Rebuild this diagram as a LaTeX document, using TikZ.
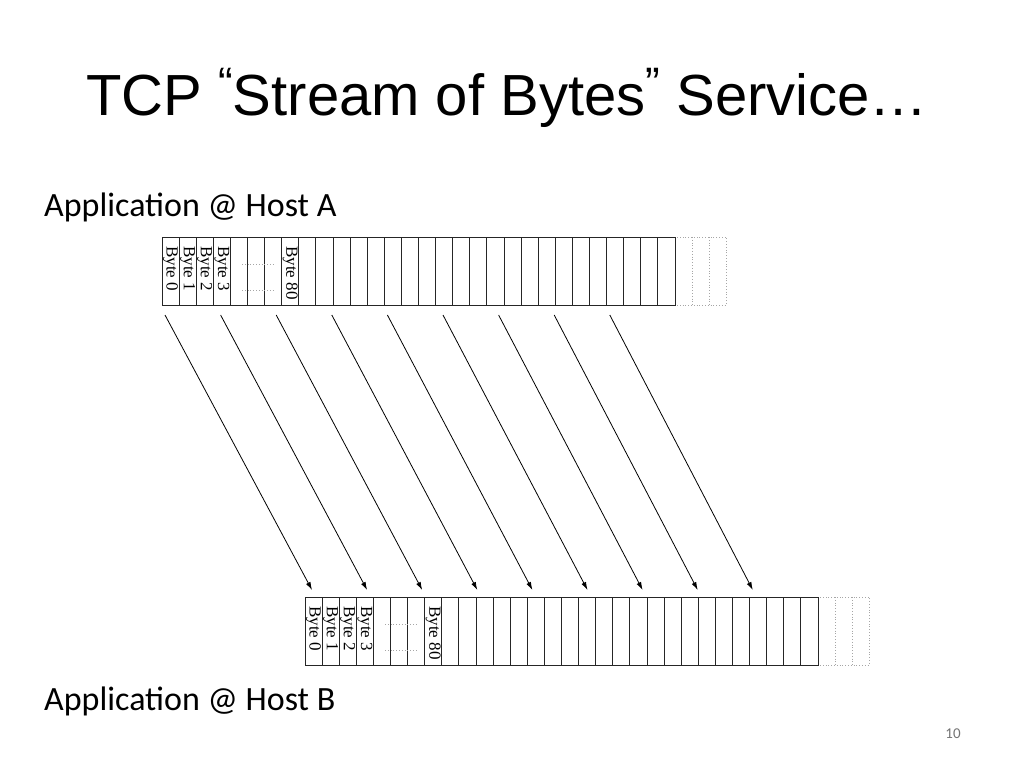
\documentclass[tikz,border=0pt]{standalone}
\usepackage{fontspec}
\usetikzlibrary{arrows.meta}
\setmainfont{Liberation Serif}
\newfontfamily\arialf{Liberation Sans}
\newfontfamily\calf{Carlito}
\begin{document}
\begin{tikzpicture}[x=1pt,y=-1pt,
  cellbox/.style={draw=black!85,line width=0.9pt},
  dotbox/.style={draw=black!35,dotted,line width=0.8pt},
  bytelbl/.style={rotate=-90,anchor=west,inner sep=0pt,font=\fontsize{17}{17}\selectfont},
  arr/.style={-{Latex[length=8pt,width=5pt]},line width=0.8pt}]
\useasboundingbox (0,0) rectangle (1024,768);
\node[font=\arialf\fontsize{58}{58}\selectfont,anchor=west,inner sep=0pt] (title) at (86,98)
  {TCP \raisebox{0.3em}{\fontsize{44}{44}\selectfont“}Stream of Bytes\raisebox{0.3em}{\fontsize{44}{44}\selectfont”} Service…};
\node[font=\calf\fontsize{34}{34}\selectfont,anchor=west,inner sep=0pt] (la) at (44,207) {Application @ Host A};
\node[font=\calf\fontsize{34}{34}\selectfont,anchor=west,inner sep=0pt] (lb) at (44,701) {Application @ Host B};
\node[font=\calf\fontsize{15}{15}\selectfont,text=black!55] (pg) at (953,734) {10};
\foreach \ox/\oy/\nm in {162/237/top,305/597/bot}{
  \begin{scope}[shift={(\ox,\oy)}]
    \draw[dotbox] (513,0) rectangle (564,68);
    \draw[dotbox] (530,0) -- (530,68) (547,0) -- (547,68);
    \foreach \i in {0,...,29}{
      \draw[cellbox] ({\i*17.1},0) rectangle ({(\i+1)*17.1},68);
    }
    \draw[dotbox] (80,27) -- (112,27) (80,53) -- (112,53);
    \node[bytelbl] (\nm b0) at (8.5,9) {Byte 0};
    \node[bytelbl] (\nm b1) at (25.6,9) {Byte 1};
    \node[bytelbl] (\nm b2) at (42.7,9) {Byte 2};
    \node[bytelbl] (\nm b3) at (59.8,9) {Byte 3};
    \node[bytelbl] (\nm b80) at (128.2,9) {Byte 80};
  \end{scope}
}
\foreach \i in {0,...,8}{
  \coordinate (s\i) at ({165+55.6*\i},315);
  \coordinate (e\i) at ({312+55.1*\i},590);
  \draw[arr] (s\i) -- (e\i);
}
\end{tikzpicture}
\end{document}
